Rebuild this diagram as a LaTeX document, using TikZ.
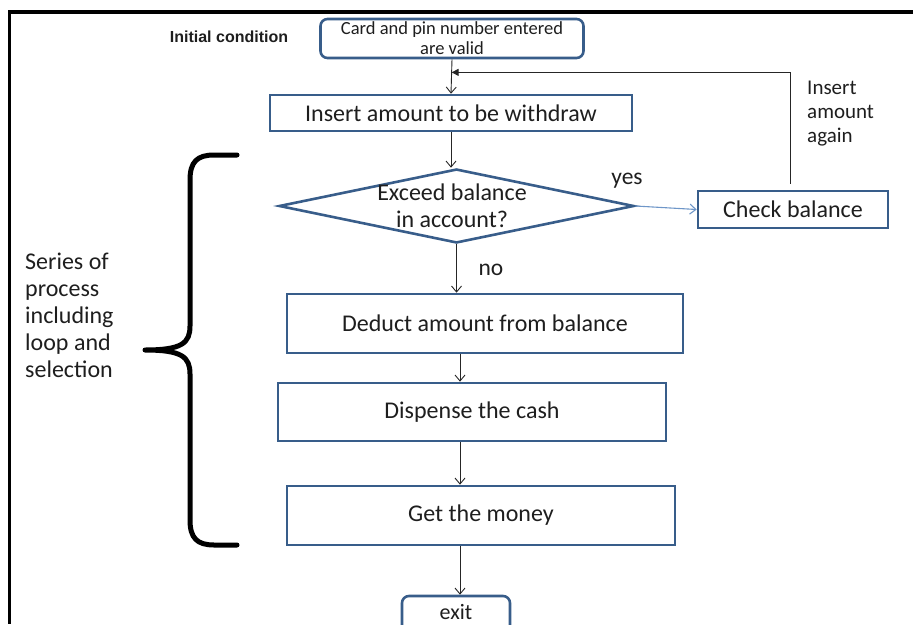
\documentclass[tikz,border=0pt]{standalone}
\usepackage{fontspec}
\setmainfont{Carlito}
\newfontfamily\labelfont{Liberation Sans}
\usetikzlibrary{shapes.geometric,arrows.meta,calc}

\definecolor{boxblue}{RGB}{56,93,138}
\definecolor{lightarrow}{RGB}{110,150,200}
\definecolor{inktext}{RGB}{30,30,30}

\tikzset{
  procbox/.style={draw=boxblue, line width=2.6pt, fill=white, rectangle,
    inner sep=0pt, align=center, text=inktext,
    font=\fontsize{24}{28}\selectfont},
  termbox/.style={procbox, rounded corners=7pt},
  flow/.style={draw=black!85, line width=0.9pt,
    -{Straight Barb[length=6pt,width=10pt,line width=0.9pt]}},
  flowyes/.style={flow, draw=lightarrow, line width=1.1pt,
    -{Straight Barb[length=6pt,width=10pt,line width=1.1pt]}},
  backflow/.style={draw=black!85, line width=0.9pt,
    -{Triangle[length=7pt,width=7pt]}},
  note/.style={text=inktext, inner sep=0pt, align=left}
}

\begin{document}
\begin{tikzpicture}[x=1pt,y=-1pt]
  \useasboundingbox (0,0) rectangle (913,624);

  % outer frame (top and left edges)
  \draw[line width=3.5pt] (913,12) -- (9.5,12) -- (9.5,624);

  % process boxes
  \node[termbox, minimum width=263pt, minimum height=39pt,
        font=\fontsize{18.5}{20}\selectfont] (start) at (452,38.5)
        {Card and pin number entered\\are valid};
  \node[procbox, minimum width=362pt, minimum height=36pt] (insert) at (451,113)
        {Insert amount to be withdraw};
  \node[draw=boxblue, line width=2.6pt, fill=white, diamond,
        minimum width=355pt, minimum height=74pt, inner sep=0pt] (dec) at (456.5,206) {};
  \node[note, align=center, font=\fontsize{24}{27}\selectfont] (dectext) at (452,206)
        {Exceed balance\\in account?};
  \node[procbox, minimum width=190pt, minimum height=37pt] (check) at (793,209.5)
        {Check balance};
  \node[procbox, minimum width=396pt, minimum height=59pt] (deduct) at (485,323.5)
        {Deduct amount from balance};
  \node[procbox, minimum width=388pt, minimum height=58pt] (dispense) at (472,412)
        {Dispense the cash};
  \node[procbox, minimum width=388pt, minimum height=59pt] (money) at (481,515.5)
        {Get the money};
  \node[termbox, minimum width=108pt, minimum height=36pt,
        font=\fontsize{22}{24}\selectfont] (exit) at (456,614)
        {\raisebox{4pt}{exit}};

  % connector column below the decision
  \coordinate (spine) at (460,0);
  \coordinate (loopin) at ($(start.south)!0.38!(insert.north)$);

  % connectors
  \draw[flow] (start.south) -- (insert.north);
  \draw[flow] (insert.south) -- (insert.south |- dec.north);
  \draw[flowyes] (dec.east) -- (check.west);
  \draw[flow] (dec.south) -- (dec.south |- deduct.north);
  \draw[flow] (deduct.south -| spine) -- (dispense.north -| spine);
  \draw[flow] (dispense.south -| spine) -- (money.north -| spine);
  \draw[flow] (money.south -| spine) -- (exit.north -| spine);
  \draw[backflow] ($(check.north)+(-3,-6)$) |- (loopin);

  % labels
  \node[note, font=\labelfont\bfseries\fontsize{16}{18}\selectfont] (initlbl) at (229,37)
        {Initial condition};
  \node[note, font=\fontsize{23.5}{26}\selectfont] (yes) at (627,181) {yes};
  \node[note, font=\fontsize{23.5}{26}\selectfont] (no) at (491,270) {no};
  \node[note, anchor=west, font=\fontsize{21}{24}\selectfont] (again) at (807,114)
        {Insert\\amount\\again};
  \node[note, anchor=west, font=\fontsize{24}{27}\selectfont] (series) at (25,315)
        {Series of\\process\\including\\loop and\\selection};

  % curly brace grouping the processing steps
  \draw[line width=5pt, line cap=round, line join=round]
    (237,155) -- (214,155)
    .. controls (197,155) and (190,162) .. (190,180)
    -- (190,326)
    .. controls (190,343) and (182,350) .. (145,350)
    .. controls (182,350) and (190,357) .. (190,374)
    -- (190,520)
    .. controls (190,538) and (197,545) .. (214,545)
    -- (237,545);
\end{tikzpicture}
\end{document}
